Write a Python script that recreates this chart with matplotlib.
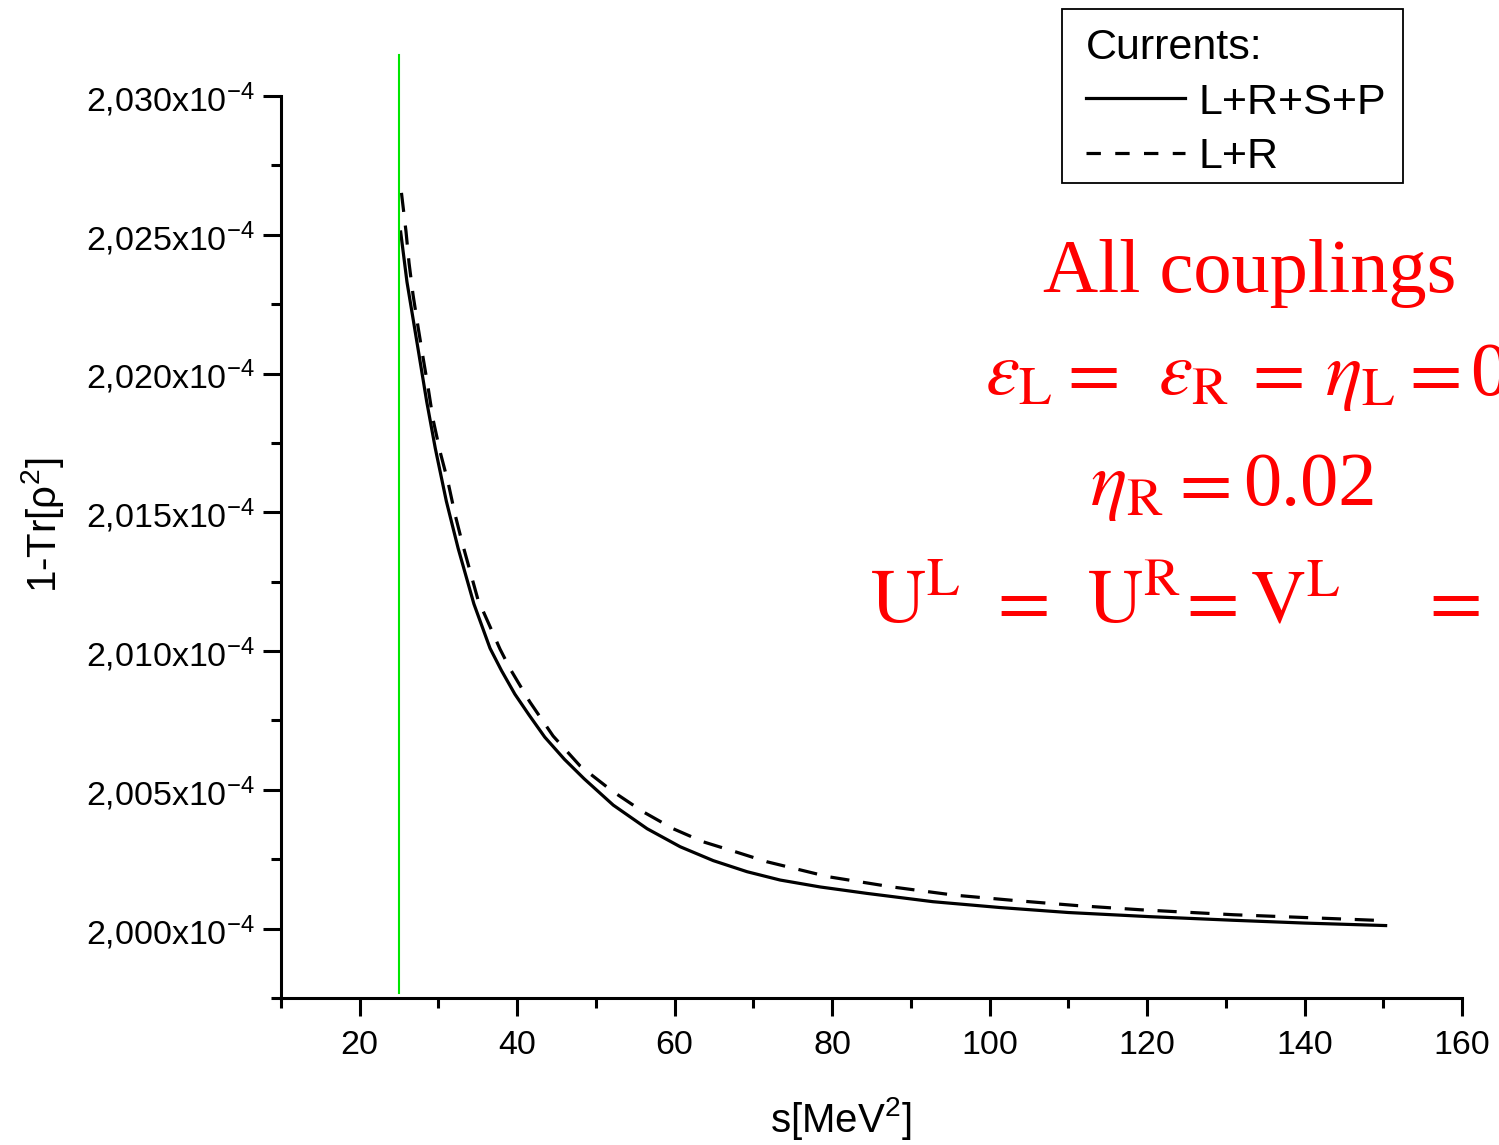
import matplotlib
matplotlib.use("Agg")
import matplotlib.pyplot as plt
from matplotlib.ticker import MultipleLocator, FuncFormatter
from matplotlib.lines import Line2D
from matplotlib.patches import Rectangle

plt.rcParams['font.family'] = ['Liberation Sans', 'DejaVu Sans']
plt.rcParams['mathtext.fontset'] = 'custom'
plt.rcParams['mathtext.rm'] = 'Liberation Sans'
plt.rcParams['mathtext.it'] = 'Liberation Sans:italic'

# ---- data (y in units of 1e-4) ----
s_full = [25.2, 26.0, 27.4, 28.5, 29.6, 31.0, 32.5, 34.5, 36.55, 38.0, 39.7, 41.5,
          43.5, 46.0, 48.5, 52.2, 56.5, 60.7, 64.9, 69.2, 73.4, 78.5, 84.4, 92.8,
          101.3, 110.0, 120.4, 131.0, 140.0, 150.3]
y_full = [2.0251, 2.0233, 2.0209, 2.0190, 2.0173, 2.0154, 2.0137, 2.0117, 2.0101,
          2.0093, 2.00845, 2.0077, 2.0069, 2.0061, 2.0054, 2.00445, 2.0036, 2.00295,
          2.00245, 2.00205, 2.00175, 2.0015, 2.00127, 2.00097, 2.00076, 2.00058,
          2.00043, 2.00030, 2.00020, 2.00011]

s_lr = [25.3, 25.88, 26.26, 26.77, 27.4, 28.04, 28.68, 29.31, 30.2, 31.22, 32.1,
        33.0, 35.0, 37.82, 39.1, 41.6, 44.56, 47.99, 52.05, 55.99, 59.8, 63.6,
        67.7, 71.7, 79.5, 87.4, 95.4, 103.3, 111.1, 119.1, 131.0, 140.0, 149.9]
y_lr = [2.02651, 2.02511, 2.02399, 2.02284, 2.02169, 2.02058, 2.0195, 2.01835,
        2.01719, 2.01608, 2.01493, 2.01392, 2.01187, 2.01007, 2.00936, 2.00817,
        2.00694, 2.00586, 2.00496, 2.00421, 2.0036, 2.00313, 2.00277, 2.00241,
        2.00187, 2.00151, 2.00121, 2.00101, 2.00083, 2.00068, 2.0005, 2.0004,
        2.00029]

threshold_s = 25
series_labels = ["L+R+S+P", "L+R"]
legend_title = "Currents:"
x_label = r"s[MeV$^{\mathregular{2}}$]"
y_label = r"1-Tr[ρ$^{\mathregular{2}}$]"

fig = plt.figure(figsize=(14.99, 11.45), dpi=100)
ax = fig.add_axes([281/1499, 1-998/1145, (1462-281)/1499, (998-96)/1145])

ax.plot(s_full, y_full, color='black', lw=2.3, solid_joinstyle='round')
ax.plot(s_lr, y_lr, color='black', lw=2.3, dashes=(6, 4.3))
ax.axvline(threshold_s, ymin=(998-993)/902, ymax=(998-55)/902, color='#00e600',
           lw=1.5, clip_on=False)

ax.set_xlim(10, 160)
ax.set_ylim(1.9975, 2.030)
ax.xaxis.set_major_locator(MultipleLocator(20))
ax.xaxis.set_minor_locator(MultipleLocator(10))
ax.yaxis.set_major_locator(MultipleLocator(0.005))
ax.yaxis.set_minor_locator(MultipleLocator(0.0025))

def yfmt(v, pos):
    return ("%.3f" % v).replace('.', ',') + r"x10$^{\mathregular{-4}}$"
ax.yaxis.set_major_formatter(FuncFormatter(yfmt))

for sp in ['top', 'right']:
    ax.spines[sp].set_visible(False)
for sp in ['left', 'bottom']:
    ax.spines[sp].set_linewidth(2.2)

ax.tick_params(which='major', direction='out', length=13, width=2.2, labelsize=24.5)
ax.tick_params(which='minor', direction='out', length=7.5, width=2.2)
ax.tick_params(axis='y', which='major', pad=6)
ax.tick_params(axis='x', which='major', pad=10)

ax.set_xlabel(x_label, fontsize=29, va='center', ha='center')
ax.xaxis.set_label_coords((841-281)/1181, (998-1118)/902)
ax.set_ylabel(y_label, fontsize=29, va='center', ha='center')
ax.yaxis.set_label_coords((42-281)/1181, (998-525)/902)

handles = [Line2D([], [], color='black', lw=2.3),
           Line2D([], [], color='black', lw=2.3, dashes=(4.5, 4.5))]
leg = ax.legend(handles, series_labels, title=legend_title, loc='upper left',
                bbox_to_anchor=(1070/1499, 1-12/1145), bbox_transform=fig.transFigure,
                fontsize=31, title_fontsize=31, alignment='left', frameon=False,
                borderaxespad=0, handlelength=2.3, handletextpad=0.3,
                labelspacing=0.33, borderpad=0.38)
fig.patches.append(Rectangle((1062/1499, 1-183/1145), (1403-1062)/1499, (183-9)/1145,
                             transform=fig.transFigure, fill=False, edgecolor='black',
                             lw=1.3, zorder=5))

red = '#ff0000'
fs = 55
def rtext(x, y, s):
    fig.text(x/1499, 1-y/1145, s, color=red, fontsize=fs, family='Liberation Serif',
             math_fontfamily='stix', va='baseline', ha='left')

rtext(1043, 292, "All couplings")
# line 2
rtext(985, 395, r"$\varepsilon_{\mathrm{L}}$")
rtext(1056, 395, r"$=$")
rtext(1158, 395, r"$\varepsilon_{\mathrm{R}}$")
rtext(1241, 395, r"$=$")
rtext(1325, 395, r"$\eta_{\mathrm{L}}$")
rtext(1398, 395, r"$=$")
rtext(1470, 395, "0")
# line 3
rtext(1090, 505, r"$\eta_{\mathrm{R}}$")
rtext(1168, 505, r"$=$")
rtext(1243, 505, "0.02")
# line 4
rtext(870, 623, r"$\mathrm{U}^{\mathrm{L}}$")
rtext(986, 623, r"$=$")
rtext(1087, 623, r"$\mathrm{U}^{\mathrm{R}}$")
rtext(1175, 623, r"$=$")
rtext(1250, 623, r"$\mathrm{V}^{\mathrm{L}}$")
rtext(1418, 623, r"$=$")

fig.savefig("out.png", dpi=100)
